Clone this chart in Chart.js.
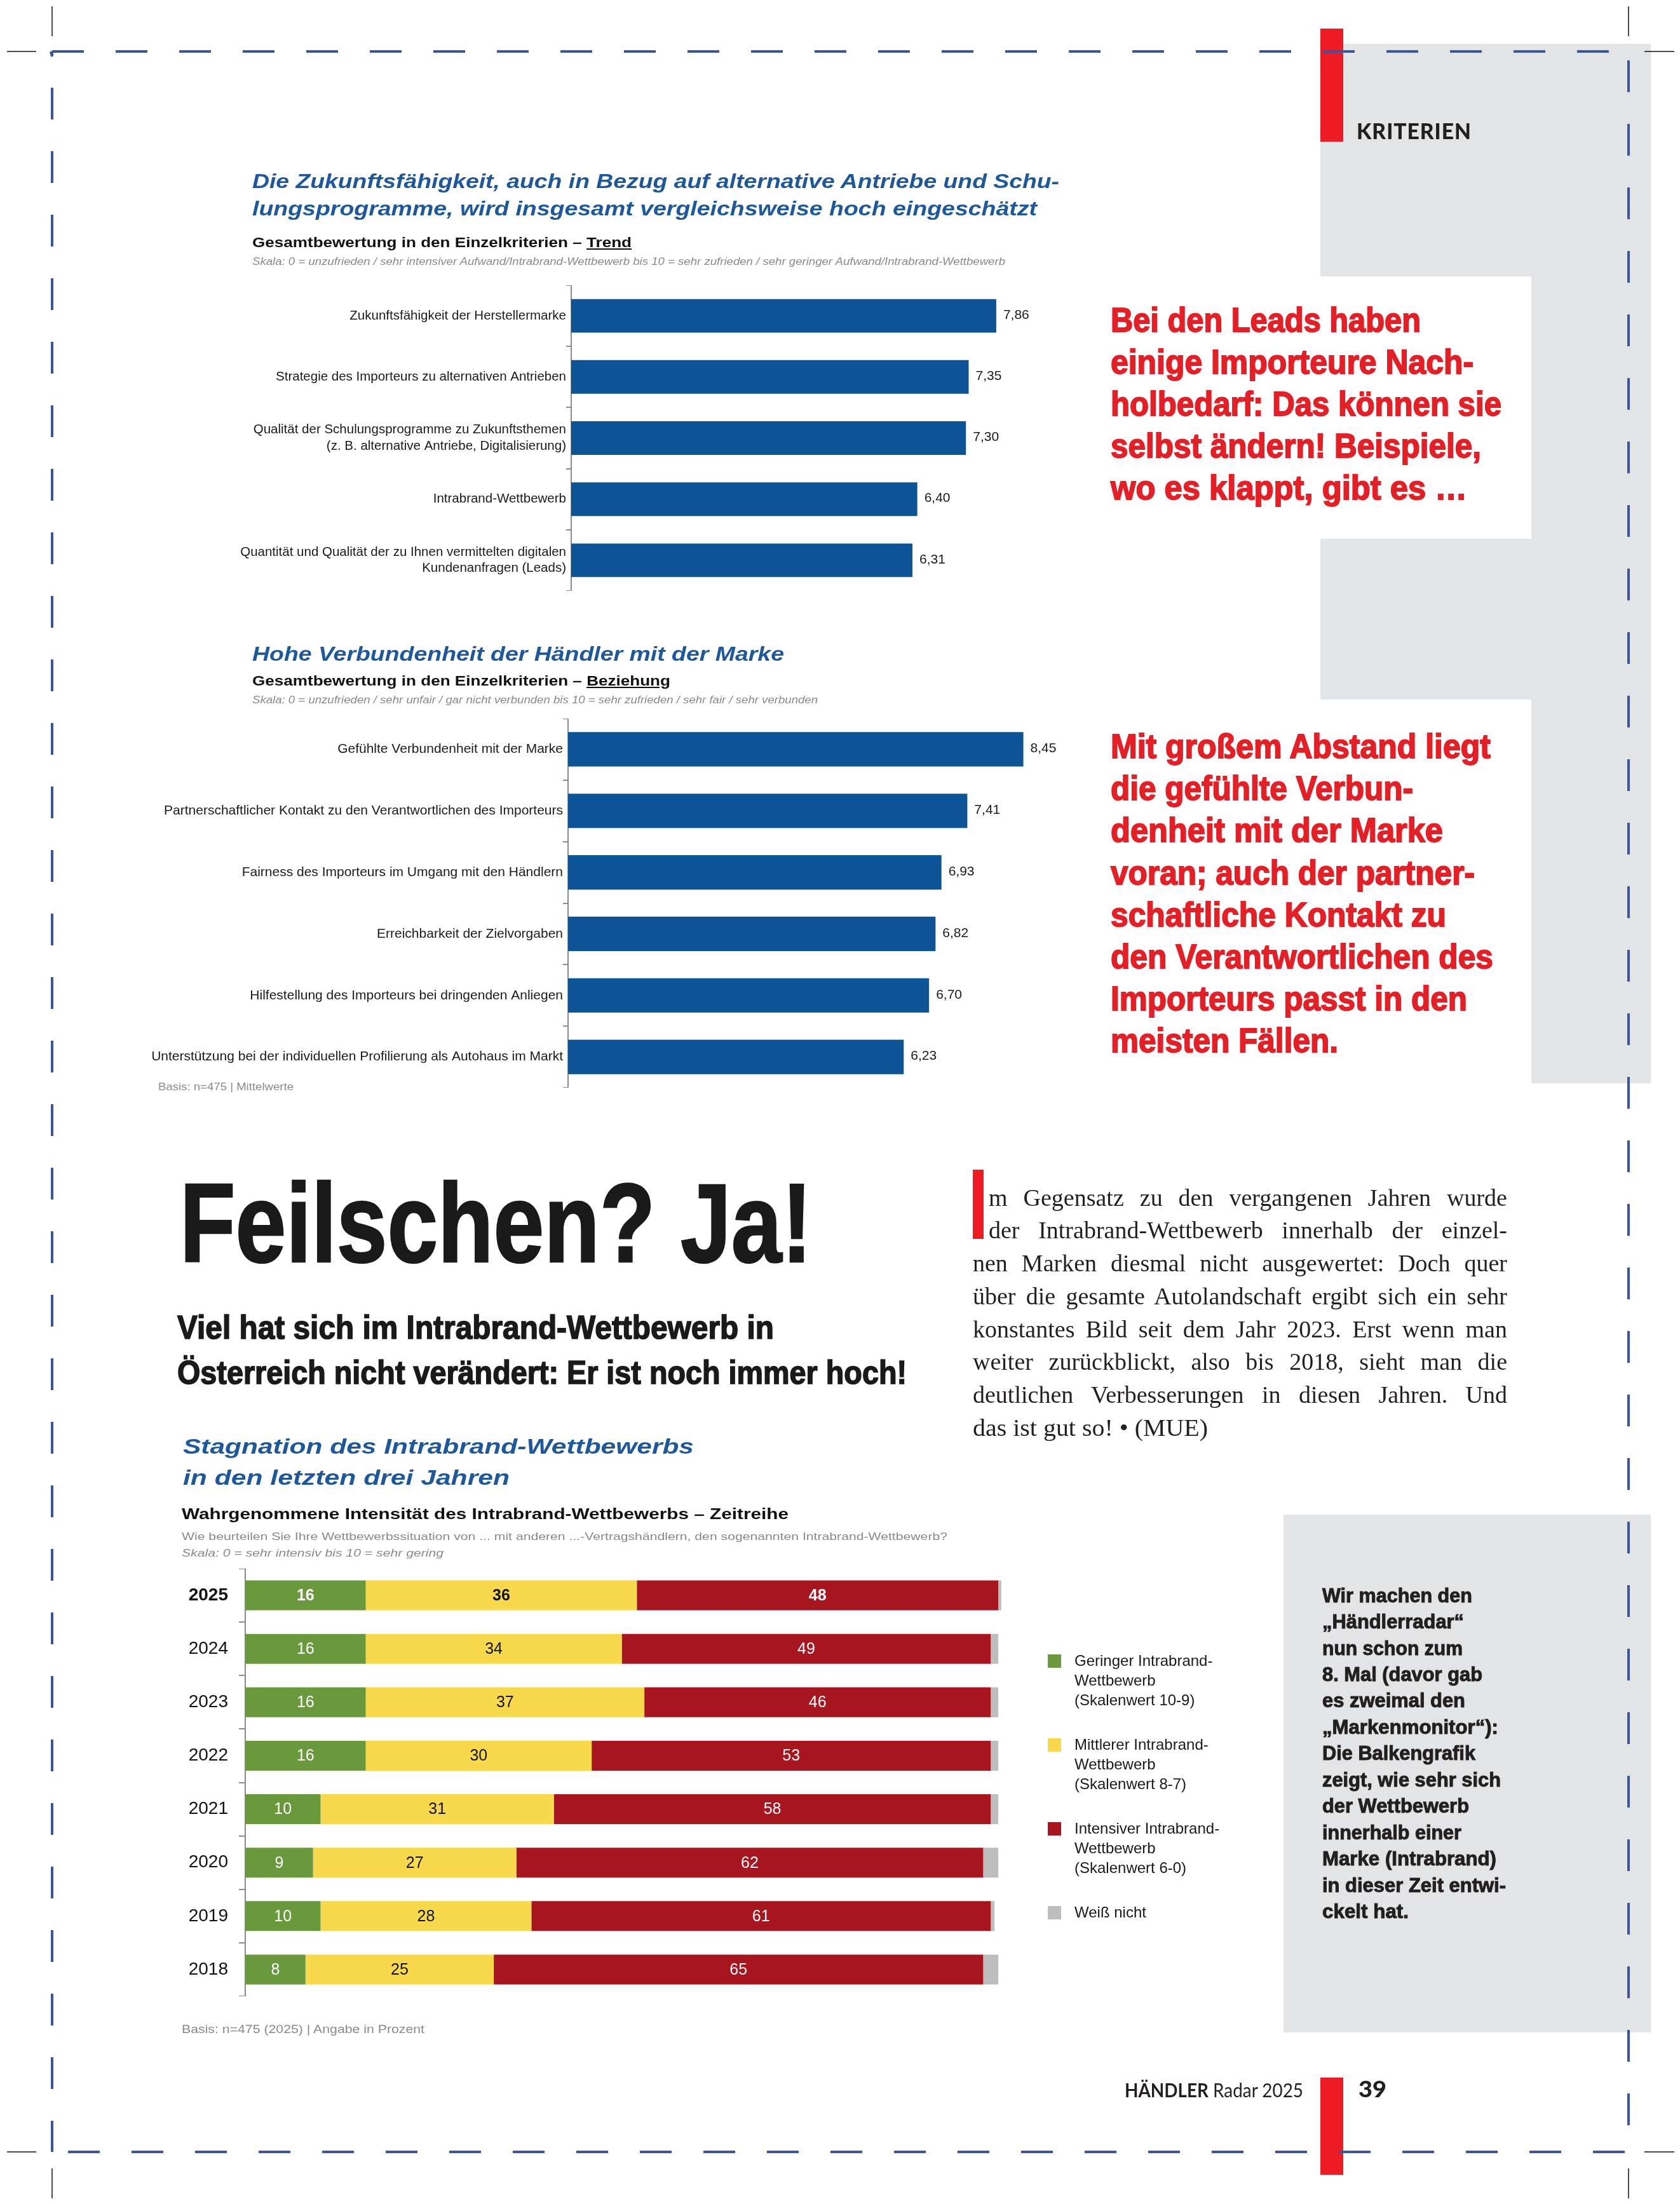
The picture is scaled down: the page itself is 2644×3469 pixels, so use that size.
<!DOCTYPE html>
<html lang="de">
<head>
<meta charset="utf-8">
<title>Händlerradar 2025 – Kriterien</title>
<script src="https://cdn.jsdelivr.net/npm/chart.js@4.4.1/dist/chart.umd.min.js"></script>
<style>
  html, body { margin: 0; padding: 0; background: #fff; }
  #page { position: relative; width: 2644px; height: 3469px; overflow: hidden;
          font-family: 'Liberation Sans', Arial, sans-serif; color: #1a1a1a; }
  .t { position: absolute; white-space: nowrap; line-height: 1; transform-origin: 0 50%; }
  .box { position: absolute; background: #e3e4e6; }
  .red { position: absolute; background: #ed1c24; }
  .chart { position: absolute; }
  .sq { position: absolute; width: 21px; height: 21px; }
  #dropcap { position: absolute; left: 1531px; top: 1841px; width: 17px; height: 109px;
             background: #ed1c24; color: #ed1c24; overflow: hidden; font-size: 17px; line-height: 109px; }
  #frame { position: absolute; left: 0; top: 0; }
</style>
</head>
<body>
<div id="page">
  <!-- grey side panels -->
  <div class="box" style="left:2078px;top:69px;width:520px;height:366px"></div>
  <div class="box" style="left:2410px;top:435px;width:188px;height:413px"></div>
  <div class="box" style="left:2078px;top:848px;width:520px;height:253px"></div>
  <div class="box" style="left:2410px;top:1101px;width:188px;height:604px"></div>
  <div class="box" style="left:2020px;top:2384px;width:578px;height:815px"></div>

  <div class="chart" style="left:350px;top:449px;width:1440px;height:481px"><canvas id="trendChart"></canvas></div>
  <div class="chart" style="left:240px;top:1131px;width:1542px;height:581px"><canvas id="relChart"></canvas></div>
  <div class="chart" style="left:280px;top:2469px;width:1297px;height:673px"><canvas id="intraChart"></canvas></div>

  <div id="dropcap">I</div>
  <div class="red" style="left:2078px;top:45px;width:36px;height:178px"></div>
  <div class="red" style="left:2078px;top:3270px;width:36px;height:153px"></div>

  <svg id="frame" width="2644" height="3469">
    <g stroke="#3b55a0" stroke-width="4" stroke-dasharray="50 50" fill="none">
      <line x1="82" y1="81" x2="2563" y2="81" stroke-dashoffset="0"/>
      <line x1="82" y1="3387" x2="2563" y2="3387" stroke-dashoffset="75"/>
      <line x1="82" y1="81" x2="82" y2="3387" stroke-dashoffset="43"/>
      <line x1="2563" y1="81" x2="2563" y2="3387" stroke-dashoffset="86"/>
      <line x1="80" y1="81" x2="82" y2="89" stroke-dasharray="none"/>
    </g>
    <g stroke="#111" stroke-width="1.5">
      <line x1="82" y1="10" x2="82" y2="57"/><line x1="11" y1="81" x2="57" y2="81"/>
      <line x1="2563" y1="10" x2="2563" y2="57"/><line x1="2588" y1="81" x2="2635" y2="81"/>
      <line x1="82" y1="3413" x2="82" y2="3460"/><line x1="11" y1="3387" x2="57" y2="3387"/>
      <line x1="2563" y1="3413" x2="2563" y2="3460"/><line x1="2588" y1="3387" x2="2635" y2="3387"/>
    </g>
  </svg>
</div>

<script>
/* =========================
   DATA
========================= */
const trendLabels = [
  "Zukunftsfähigkeit der Herstellermarke",
  "Strategie des Importeurs zu alternativen Antrieben",
  ["Qualität der Schulungsprogramme zu Zukunftsthemen", "(z. B. alternative Antriebe, Digitalisierung)"],
  "Intrabrand-Wettbewerb",
  ["Quantität und Qualität der zu Ihnen vermittelten digitalen", "Kundenanfragen (Leads)"]
];
const trendValues = [7.86, 7.35, 7.30, 6.40, 6.31];

const relLabels = [
  "Gefühlte Verbundenheit mit der Marke",
  "Partnerschaftlicher Kontakt zu den Verantwortlichen des Importeurs",
  "Fairness des Importeurs im Umgang mit den Händlern",
  "Erreichbarkeit der Zielvorgaben",
  "Hilfestellung des Importeurs bei dringenden Anliegen",
  "Unterstützung bei der individuellen Profilierung als Autohaus im Markt"
];
const relValues = [8.45, 7.41, 6.93, 6.82, 6.70, 6.23];

const years = ["2025", "2024", "2023", "2022", "2021", "2020", "2019", "2018"];
const geringer   = [16, 16, 16, 16, 10, 9, 10, 8];
const mittlerer  = [36, 34, 37, 30, 31, 27, 28, 25];
const intensiver = [48, 49, 46, 53, 58, 62, 61, 65];
const weissNicht = [0.4, 1, 1, 1, 1, 2, 0.5, 2];

const seriesNames = [
  ["Geringer Intrabrand-", "Wettbewerb", "(Skalenwert 10-9)"],
  ["Mittlerer Intrabrand-", "Wettbewerb", "(Skalenwert 8-7)"],
  ["Intensiver Intrabrand-", "Wettbewerb", "(Skalenwert 6-0)"],
  ["Weiß nicht"]
];
const seriesColors = ["#6a983c", "#f8d94b", "#a7161e", "#bdbdbd"];

/* =========================
   TEXT HELPERS
========================= */
const page = document.getElementById("page");
const FONT = "'Liberation Sans', Arial, sans-serif";

function put(x, base, size, html, style, w, justify) {
  const d = document.createElement("div");
  d.className = "t";
  d.innerHTML = html;
  d.style.cssText = `left:${x}px;top:${base - 0.85 * size}px;font-size:${size}px;${style || ""}`;
  if (w) d.dataset.w = w;
  if (justify) d.dataset.justify = "1";
  page.appendChild(d);
  return d;
}

function block(x, base, lh, size, lines, style, widths) {
  lines.forEach((s, i) => put(x, base + i * lh, size, s, style, widths && widths[i]));
}

// squeeze (or justify) each line to the width measured in the print
function fitLines() {
  document.querySelectorAll(".t[data-w]").forEach(el => {
    el.style.transform = "";
    el.style.wordSpacing = "";
    const target = +el.dataset.w;
    const w = el.getBoundingClientRect().width;
    if (!w) return;
    const gaps = (el.textContent.match(/ /g) || []).length;
    if (el.dataset.justify && w < target && gaps) {
      el.style.wordSpacing = (target - w) / gaps + "px";
    } else {
      el.style.transform = `scaleX(${target / w})`;
    }
  });
}

/* =========================
   PAGE TEXT
========================= */
const titleStyle = "font-weight:bold;font-style:italic;color:#1d589d";
const subStyle = "font-weight:bold;color:#111";
const noteStyle = "color:#8a8a8a";
const heavy = px => `font-weight:bold;-webkit-text-stroke:${px}px currentColor;`;

put(2135, 218, 35, "KRITERIEN", "font-family:Lato;font-weight:900;color:#231f20;letter-spacing:1px", 181);

block(1748, 522, 66, 53, [
  "Bei den Leads haben",
  "einige Importeure Nach-",
  "holbedarf: Das können sie",
  "selbst ändern! Beispiele,",
  "wo es klappt, gibt es …"
], heavy(1.8) + "color:#e41f26", [488, 571, 615, 583, 561]);

block(1748, 1193, 66.2, 53, [
  "Mit großem Abstand liegt",
  "die gefühlte Verbun-",
  "denheit mit der Marke",
  "voran; auch der partner-",
  "schaftliche Kontakt zu",
  "den Verantwortlichen des",
  "Importeurs passt in den",
  "meisten Fällen."
], heavy(1.8) + "color:#e41f26", [598, 476, 523, 573, 528, 602, 561, 358]);

// chart 1 heading
put(397, 296, 31, "Die Zukunftsfähigkeit, auch in Bezug auf alternative Antriebe und Schu-", titleStyle, 1270);
put(397, 339, 31, "lungsprogramme, wird insgesamt vergleichsweise hoch eingeschätzt", titleStyle, 1235);
put(397, 390, 22, "Gesamtbewertung in den Einzelkriterien – <u>Trend</u>", subStyle, 597);
put(397, 418, 16, "Skala: 0 = unzufrieden / sehr intensiver Aufwand/Intrabrand-Wettbewerb bis 10 = sehr zufrieden / sehr geringer Aufwand/Intrabrand-Wettbewerb", "font-style:italic;" + noteStyle, 1185);

// chart 2 heading
put(397, 1040, 31, "Hohe Verbundenheit der Händler mit der Marke", titleStyle, 837);
put(397, 1080, 22, "Gesamtbewertung in den Einzelkriterien – <u>Beziehung</u>", subStyle, 658);
put(397, 1108, 16, "Skala: 0 = unzufrieden / sehr unfair / gar nicht verbunden bis 10 = sehr zufrieden / sehr fair / sehr verbunden", "font-style:italic;" + noteStyle, 890);
put(249, 1716, 17, "Basis: n=475 | Mittelwerte", noteStyle, 213);

// headline
put(283, 1987, 177, "Feilschen? Ja!", heavy(2.5) + "color:#1a1a1a", 995);
put(279, 2107, 52, "Viel hat sich im Intrabrand-Wettbewerb in", heavy(1.6) + "color:#1a1a1a", 939);
put(279, 2178, 52, "Österreich nicht verändert: Er ist noch immer hoch!", heavy(1.6) + "color:#1a1a1a", 1148);

// body copy
const serif = "font-family:'Liberation Serif','Times New Roman',serif;color:#231f20";
const bodyLines = [
  "m Gegensatz zu den vergangenen Jahren wurde",
  "der Intrabrand-Wettbewerb innerhalb der einzel-",
  "nen Marken diesmal nicht ausgewertet: Doch quer",
  "über die gesamte Autolandschaft ergibt sich ein sehr",
  "konstantes Bild seit dem Jahr 2023. Erst wenn man",
  "weiter zurückblickt, also bis 2018, sieht man die",
  "deutlichen Verbesserungen in diesen Jahren. Und",
  "das ist gut so! • (MUE)"
];
bodyLines.forEach((s, i) => {
  const indent = i < 2;
  const last = i === bodyLines.length - 1;
  put(indent ? 1556 : 1531, 1898 + i * 51.7, 38, s, serif, last ? 370 : (indent ? 816 : 841), !last);
});

// chart 3 heading
put(288, 2288, 34, "Stagnation des Intrabrand-Wettbewerbs", titleStyle, 804);
put(288, 2337, 34, "in den letzten drei Jahren", titleStyle, 514);
put(286, 2392, 23, "Wahrgenommene Intensität des Intrabrand-Wettbewerbs – Zeitreihe", subStyle, 955);
put(286, 2424, 17, "Wie beurteilen Sie Ihre Wettbewerbssituation von ... mit anderen ...-Vertragshändlern, den sogenannten Intrabrand-Wettbewerb?", noteStyle, 1205);
put(286, 2450, 17, "Skala: 0 = sehr intensiv bis 10 = sehr gering", "font-style:italic;" + noteStyle, 412);
put(286, 3200, 18, "Basis: n=475 (2025) | Angabe in Prozent", noteStyle, 382);

// legend for chart 3
seriesNames.forEach((lines, k) => {
  const top = 2604 + k * 132;
  const sq = document.createElement("div");
  sq.className = "sq";
  sq.style.cssText = `left:1649px;top:${top}px;background:${seriesColors[k]}`;
  page.appendChild(sq);
  block(1691, top + 18, 31, 24, lines, "color:#1a1a1a");
});

// grey box note
block(2081, 2522, 41.45, 31, [
  "Wir machen den",
  "„Händlerradar“",
  "nun schon zum",
  "8. Mal (davor gab",
  "es zweimal den",
  "„Markenmonitor“):",
  "Die Balkengrafik",
  "zeigt, wie sehr sich",
  "der Wettbewerb",
  "innerhalb einer",
  "Marke (Intrabrand)",
  "in dieser Zeit entwi-",
  "ckelt hat."
], heavy(1) + "color:#231f20", [236, 223, 221, 252, 225, 277, 241, 281, 231, 219, 274, 289, 136]);

// footer
put(1770, 3299, 30, "<b>HÄNDLER</b> Radar 2025", "font-family:Lato;color:#231f20", 281);
put(2138, 3300, 36, "39", "font-family:Lato;font-weight:900;color:#231f20", 44);

/* =========================
   CHARTS
========================= */
Chart.defaults.font.family = FONT;
Chart.defaults.color = "#1a1a1a";
Chart.defaults.animation = false;

const valueLabels = {
  id: "valueLabels",
  afterDatasetsDraw(chart) {
    const { ctx } = chart;
    const ds = chart.data.datasets[0];
    ctx.save();
    ctx.font = `21px ${FONT}`;
    ctx.fillStyle = "#1a1a1a";
    ctx.textBaseline = "middle";
    chart.getDatasetMeta(0).data.forEach((bar, i) => {
      ctx.fillText(ds.data[i].toFixed(2).replace(".", ","), bar.x + 11, bar.y - 1);
    });
    ctx.restore();
  }
};

const segmentLabels = {
  id: "segmentLabels",
  afterDatasetsDraw(chart) {
    const { ctx } = chart;
    ctx.save();
    ctx.textAlign = "center";
    ctx.textBaseline = "middle";
    chart.data.datasets.forEach((ds, di) => {
      if (!ds.labelColor) return;
      chart.getDatasetMeta(di).data.forEach((bar, i) => {
        ctx.font = `${i === 0 ? "bold " : ""}25px ${FONT}`;
        ctx.fillStyle = ds.labelColor;
        ctx.fillText(String(ds.data[i]), (bar.x + bar.base) / 2, bar.y + 1);
      });
    });
    ctx.restore();
  }
};

function axisY(width, fontSize, tickLen, pad) {
  return {
    afterFit(s) { s.width = width; s.paddingTop = 0; s.paddingBottom = 0; },
    border: { display: true, color: "#8c8c8c", width: 2 },
    grid: { display: true, drawOnChartArea: false, drawTicks: true, tickLength: tickLen, color: "#8c8c8c", lineWidth: 2 },
    ticks: { padding: pad, color: "#1a1a1a", font: { size: fontSize, lineHeight: 1.25 } }
  };
}

function scoreChart(id, labels, values, yWidth, thick, fontSize) {
  return new Chart(document.getElementById(id), {
    type: "bar",
    data: {
      labels: labels,
      datasets: [{ data: values, backgroundColor: "#0c5495", barPercentage: thick, categoryPercentage: 1 }]
    },
    options: {
      indexAxis: "y",
      responsive: true,
      maintainAspectRatio: false,
      layout: { padding: { top: 0, bottom: 0, left: 0, right: 40 } },
      plugins: { legend: { display: false }, tooltip: { enabled: false } },
      scales: {
        x: { display: false, min: 0, max: 10 },
        y: axisY(yWidth, fontSize, 8, 0)
      }
    },
    plugins: [valueLabels]
  });
}

scoreChart("trendChart", trendLabels, trendValues, 549, 0.55, 20.5);
scoreChart("relChart", relLabels, relValues, 654, 0.56, 21);

const intraY = axisY(106, 27, 10, 17);
intraY.ticks.font = ctx => ({ size: 28, weight: ctx.index === 0 ? "bold" : "normal" });
intraY.ticks.color = "#111";

new Chart(document.getElementById("intraChart"), {
  type: "bar",
  data: {
    labels: years,
    datasets: [
      { label: seriesNames[0].join(" "), data: geringer, backgroundColor: seriesColors[0], labelColor: "#fff" },
      { label: seriesNames[1].join(" "), data: mittlerer, backgroundColor: seriesColors[1], labelColor: "#111" },
      { label: seriesNames[2].join(" "), data: intensiver, backgroundColor: seriesColors[2], labelColor: "#fff" },
      { label: seriesNames[3].join(" "), data: weissNicht, backgroundColor: seriesColors[3] }
    ].map(d => Object.assign(d, { barPercentage: 0.56, categoryPercentage: 1 }))
  },
  options: {
    indexAxis: "y",
    responsive: true,
    maintainAspectRatio: false,
    layout: { padding: 0 },
    plugins: { legend: { display: false }, tooltip: { enabled: false } },
    scales: {
      x: { display: false, stacked: true, min: 0, max: 100.5 },
      y: Object.assign(intraY, { stacked: true })
    }
  },
  plugins: [segmentLabels]
});

fitLines();
if (document.fonts && document.fonts.ready) document.fonts.ready.then(fitLines);
</script>
</body>
</html>
